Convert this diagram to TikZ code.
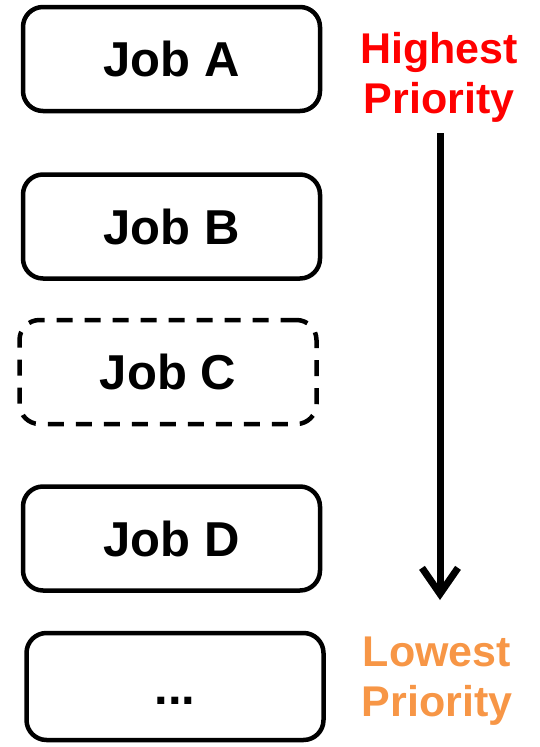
\documentclass[tikz,border=0pt]{standalone}
\usepackage{fontspec}
\setmainfont{Liberation Sans}
\usetikzlibrary{arrows.meta}
\definecolor{lowcol}{HTML}{F79646}
\begin{document}
\begin{tikzpicture}[x=1pt,y=-1pt,
  jobbox/.style={draw, line width=4.5pt, rounded corners=20pt, inner sep=0pt,
    minimum width=297pt, minimum height=104pt, text height=35pt, text depth=0pt,
    font=\fontsize{49}{55}\selectfont\bfseries},
  dashedbox/.style={jobbox, dash pattern=on 16pt off 12pt},
  prio/.style={align=center, inner sep=0pt, font=\fontsize{43}{50}\selectfont\bfseries}]
\useasboundingbox (0,0) rectangle (540,747);

% job queue
\node[jobbox] (a) at (171.5,59) {Job A};
\node[jobbox] (b) at (171.5,226.5) {Job B};
\node[dashedbox] (c) at (168,372) {Job C};
\node[jobbox] (d) at (171.5,538.5) {Job D};
\node[jobbox, minimum height=107pt] (e) at (175,686.5) {...};

% priority scale
\node[prio, text=red] (hi) at (439,77) {Highest\\Priority};
\node[prio, text=lowcol] (lo) at (437,681) {Lowest\\Priority};
\coordinate (top) at (440,133);
\coordinate (bot) at (440,600);
\draw[line width=7pt, -{Straight Barb[length=26pt, width=36pt, line width=7pt]}] (top) -- (bot);
\end{tikzpicture}
\end{document}
